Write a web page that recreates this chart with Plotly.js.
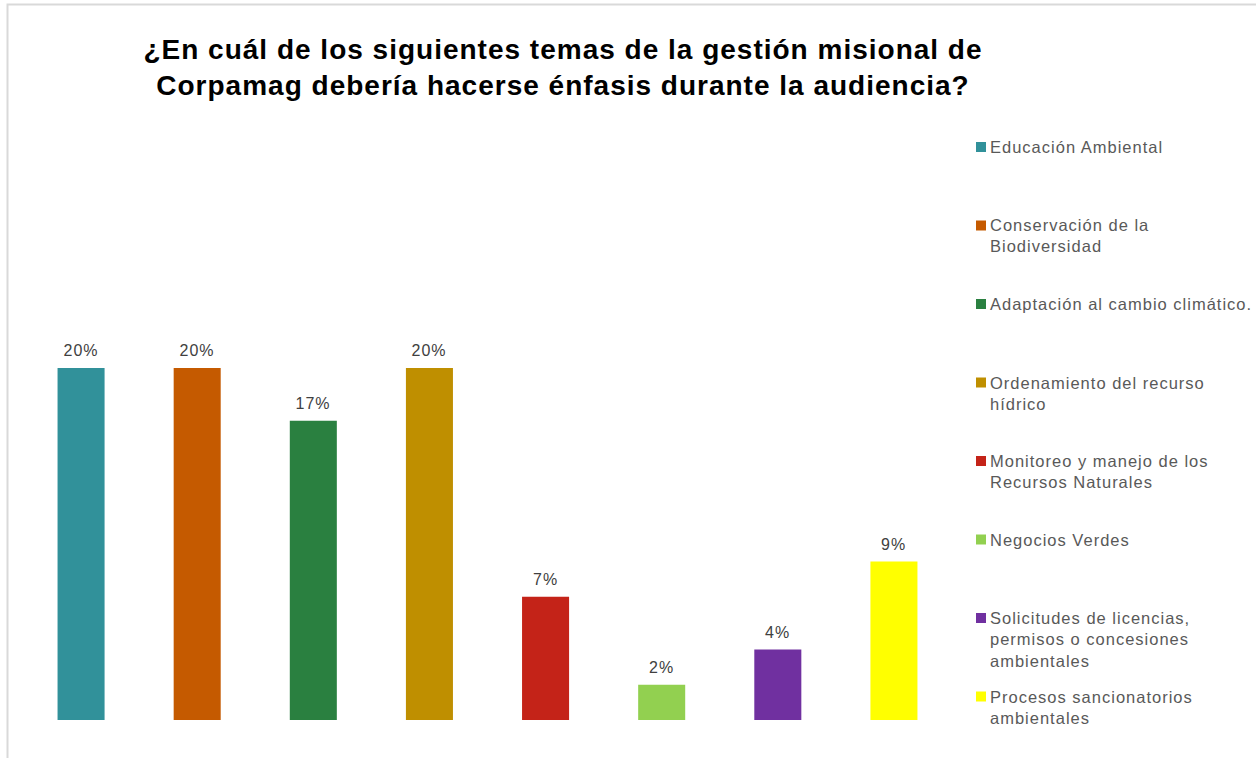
<!DOCTYPE html>
<html>
<head>
<meta charset="utf-8">
<script src="https://cdn.plot.ly/plotly-3.0.1.min.js"></script>
<style>
html,body{margin:0;padding:0;background:#fff;}
#chart{width:1256px;height:758px;}
#chart .gtitle{letter-spacing:1px;}
#chart .annotation-text{letter-spacing:1px;}
</style>
</head>
<body>
<div id="chart"></div>
<script>
const categories = [
  "Educación Ambiental",
  "Conservación de la<br>Biodiversidad",
  "Adaptación al cambio climático.",
  "Ordenamiento del recurso<br>hídrico",
  "Monitoreo y manejo de los<br>Recursos Naturales",
  "Negocios Verdes",
  "Solicitudes de licencias,<br>permisos o concesiones<br>ambientales",
  "Procesos sancionatorios<br>ambientales"
];
const values = [0.20, 0.20, 0.17, 0.20, 0.07, 0.02, 0.04, 0.09];
const colors = ["#31919A", "#C55A00", "#2A8040", "#BF8F00", "#C42318", "#92D050", "#7030A0", "#FFFF00"];

const W = 1256, H = 758;
const mL = 23, mR = 304, mT = 280, mB = 38;
const plotW = W - mL - mR, plotH = H - mT - mB;
const px2x = p => (p - mL) / plotW;
const py2y = p => (H - mB - p) / plotH;

const xs = categories.map((c, i) => i);

const trace = {
  type: "bar",
  x: xs,
  y: values,
  marker: {color: colors},
  width: 0.405,
  hoverinfo: "skip"
};

const annotations = [];
const shapes = [];
// data labels
values.forEach((v, i) => {
  annotations.push({
    xref: "x", yref: "y", x: xs[i], y: v,
    xanchor: "center", yanchor: "bottom", yshift: 7,
    showarrow: false,
    text: Math.round(v * 100) + "%",
    font: {family: "Liberation Sans, Arial, sans-serif", size: 16, color: "#404040"}
  });
});
// legend
categories.forEach((c, i) => {
  const yc = 147 + 78.5 * i;
  annotations.push({
    xref: "paper", yref: "paper",
    x: px2x(988), y: py2y(yc - 11),
    xanchor: "left", yanchor: "top", align: "left",
    showarrow: false,
    text: c,
    font: {family: "Liberation Sans, Arial, sans-serif", size: 16.5, color: "#595959"}
  });
  shapes.push({
    type: "rect", xref: "paper", yref: "paper",
    x0: px2x(976), x1: px2x(986),
    y0: py2y(yc + 5), y1: py2y(yc - 5),
    fillcolor: colors[i], line: {width: 0}
  });
});
// chart border (outer frame)
shapes.push({
  type: "rect", xref: "paper", yref: "paper",
  x0: px2x(7.5), x1: px2x(1300), y0: py2y(800), y1: py2y(4.5),
  line: {color: "#d9d9d9", width: 2}, fillcolor: "rgba(0,0,0,0)", layer: "below"
});

const layout = {
  width: W, height: H,
  margin: {l: mL, r: mR, t: mT, b: mB, pad: 0},
  paper_bgcolor: "#ffffff",
  plot_bgcolor: "#ffffff",
  showlegend: false,
  title: {
    text: "<b>¿En cuál de los siguientes temas de la gestión misional de<br>Corpamag debería hacerse énfasis durante la audiencia?</b>",
    font: {family: "Liberation Sans, Arial, sans-serif", size: 28, color: "#000000"},
    xref: "container", yref: "container",
    x: 563 / W, xanchor: "center",
    y: 1 - 59 / H, yanchor: "top"
  },
  xaxis: {
    range: [-0.5, 7.5],
    showticklabels: false, ticks: "", showgrid: false, zeroline: false, showline: false,
    fixedrange: true
  },
  yaxis: {
    range: [0, 0.25],
    showticklabels: false, ticks: "", showgrid: false, zeroline: false, showline: false,
    fixedrange: true
  },
  annotations: annotations,
  shapes: shapes
};

Plotly.newPlot("chart", [trace], layout, {displayModeBar: false, staticPlot: true});
</script>
</body>
</html>
